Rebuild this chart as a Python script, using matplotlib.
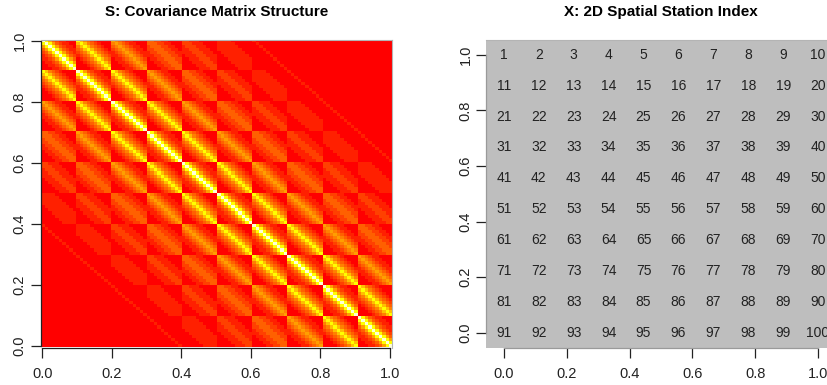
import numpy as np
import matplotlib
matplotlib.use('Agg')
import matplotlib.pyplot as plt
from matplotlib.colors import ListedColormap, BoundaryNorm

plt.rcParams['font.family'] = ['Liberation Sans', 'DejaVu Sans']

# 10 x 10 grid of stations, numbered row by row
n_side = 10
grid_rows = np.repeat(np.arange(1, n_side + 1), n_side)
grid_cols = np.tile(np.arange(1, n_side + 1), n_side)
station_ids = np.arange(1, n_side * n_side + 1)

# exponential covariance, range
cov_range = 2.5

# R heat.colors(12)
heat12 = ['#FF0000', '#FF2000', '#FF4000', '#FF6000', '#FF8000', '#FF9F00',
          '#FFBF00', '#FFDF00', '#FFFF00', '#FFFF2A', '#FFFF80', '#FFFFD5']

ticks = [0.0, 0.2, 0.4, 0.6, 0.8, 1.0]
tick_labels = ['0.0', '0.2', '0.4', '0.6', '0.8', '1.0']

# covariance matrix S
dr = grid_rows[:, None] - grid_rows[None, :]
dc = grid_cols[:, None] - grid_cols[None, :]
dist = np.sqrt(dr ** 2 + dc ** 2)
S = np.exp(-dist / cov_range)

fig = plt.figure(figsize=(8.28, 3.85), dpi=100)

W, H = 828.0, 385.0
ax1 = fig.add_axes([40.6 / W, (H - 347.5) / H, 351.1 / W, 308 / H])
ax2 = fig.add_axes([486.5 / W, (H - 348.0) / H, 349.0 / W, 308.5 / H])


def r_axes(ax, spine_col):
    for s in ['top', 'right']:
        ax.spines[s].set_color('#b4b4b4')
        ax.spines[s].set_linewidth(0.8)
    for s in ['left', 'bottom']:
        ax.spines[s].set_bounds(0, 1)
        ax.spines[s].set_color(spine_col)
        ax.spines[s].set_linewidth(0.9)
    ax.set_xticks(ticks)
    ax.set_xticklabels(tick_labels)
    ax.set_yticks(ticks)
    ax.set_yticklabels(tick_labels, rotation=90, va='center')
    ax.tick_params(axis='both', length=7, width=0.9, labelsize=10.5,
                   colors='#222222')
    ax.tick_params(axis='x', pad=7)
    ax.tick_params(axis='y', pad=3)


# left: covariance matrix image
breaks = np.linspace(S.min(), S.max(), len(heat12) + 1)
cmap = ListedColormap(heat12)
norm = BoundaryNorm(breaks, len(heat12))
h = 0.5 / (n_side * n_side - 1)
ax1.imshow(S, cmap=cmap, norm=norm, origin='upper', interpolation='nearest',
           extent=[-h, 1 + h, -h, 1 + h], aspect='auto')
ax1.set_xlim(-h, 1 + h)
ax1.set_ylim(-h, 1 + h)
r_axes(ax1, '#222222')
ax1.set_title('S: Covariance Matrix Structure', fontsize=11,
              fontweight='bold', pad=17)

# right: station index on the grid
g = 0.5 / (n_side - 1)
ax2.set_facecolor('#BEBEBE')
ax2.set_xlim(-g, 1 + g)
ax2.set_ylim(-g, 1 + g)
xs = (grid_cols - 1) / (n_side - 1)
ys = 1 - (grid_rows - 1) / (n_side - 1)
for x, y, sid in zip(xs, ys, station_ids):
    ax2.text(x, y, str(sid), ha='center', va='center', fontsize=10,
             color='#222222')
r_axes(ax2, '#9a9a9a')
ax2.set_title('X: 2D Spatial Station Index', fontsize=11,
              fontweight='bold', pad=17)

fig.savefig('out.png', dpi=100)
